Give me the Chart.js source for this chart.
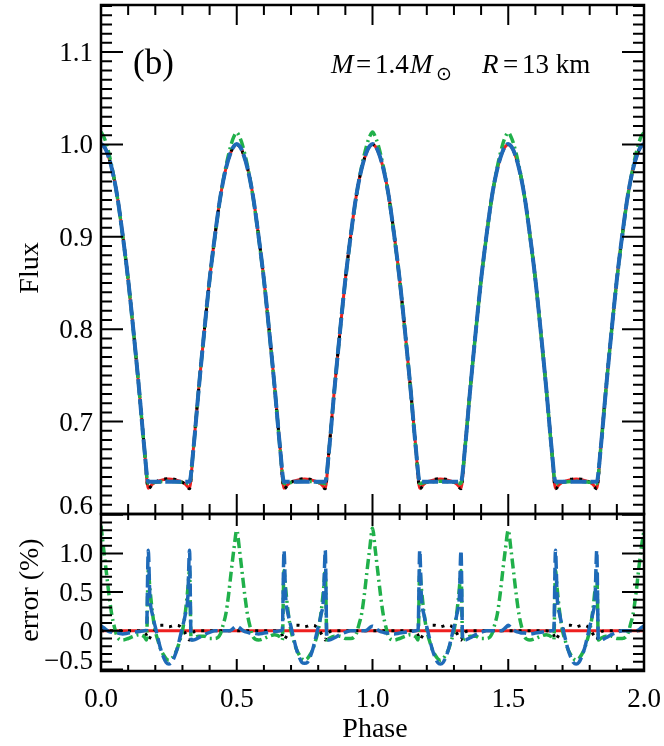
<!DOCTYPE html>
<html>
<head>
<meta charset="utf-8">
<script src="https://cdn.jsdelivr.net/npm/chart.js@4"></script>
<style>
  html, body { margin: 0; padding: 0; background: #fff; }
  #wrap { position: relative; width: 664px; height: 746px; }
  canvas { position: absolute; left: 0; }
  #fluxChart { top: 0; }
  #errChart { top: 500px; }
</style>
</head>
<body>
<div id="wrap">
  <canvas id="fluxChart" width="664" height="520"></canvas>
  <canvas id="errChart" width="664" height="246"></canvas>
</div>
<script>
// ---------- data ----------
// top panel: phase grid + flux of the four curves
const phaseTop = [
  0, 0.01, 0.02, 0.04, 0.06, 0.08, 0.10, 0.12, 0.14, 0.16, 0.174, 0.19, 0.21, 0.23, 0.25, 0.27, 0.29, 0.31, 0.326, 0.34, 0.36, 0.38, 0.40, 0.42, 0.44, 0.46, 0.48, 0.49,
  0.5, 0.51, 0.52, 0.54, 0.56, 0.58, 0.60, 0.62, 0.64, 0.66, 0.674, 0.69, 0.71, 0.73, 0.75, 0.77, 0.79, 0.81, 0.826, 0.84, 0.86, 0.88, 0.90, 0.92, 0.94, 0.96, 0.98, 0.99,
  1.0, 1.01, 1.02, 1.04, 1.06, 1.08, 1.10, 1.12, 1.14, 1.16, 1.174, 1.19, 1.21, 1.23, 1.25, 1.27, 1.29, 1.31, 1.326, 1.34, 1.36, 1.38, 1.40, 1.42, 1.44, 1.46, 1.48, 1.49,
  1.5, 1.51, 1.52, 1.54, 1.56, 1.58, 1.60, 1.62, 1.64, 1.66, 1.674, 1.69, 1.71, 1.73, 1.75, 1.77, 1.79, 1.81, 1.826, 1.84, 1.86, 1.88, 1.90, 1.92, 1.94, 1.96, 1.98, 1.99,
  2.0
];
const fluxExact = [
  1.000, 0.998, 0.993, 0.974, 0.944, 0.902, 0.854, 0.797, 0.736, 0.670, 0.628, 0.6325, 0.6355, 0.6372, 0.6378, 0.6372, 0.6355, 0.6325, 0.628, 0.670, 0.736, 0.797, 0.854, 0.902, 0.944, 0.974, 0.993, 0.998,
  1.000, 0.998, 0.993, 0.974, 0.944, 0.902, 0.854, 0.797, 0.736, 0.670, 0.628, 0.6325, 0.6355, 0.6372, 0.6378, 0.6372, 0.6355, 0.6325, 0.628, 0.670, 0.736, 0.797, 0.854, 0.902, 0.944, 0.974, 0.993, 0.998,
  1.000, 0.998, 0.993, 0.974, 0.944, 0.902, 0.854, 0.797, 0.736, 0.670, 0.628, 0.6325, 0.6355, 0.6372, 0.6378, 0.6372, 0.6355, 0.6325, 0.628, 0.670, 0.736, 0.797, 0.854, 0.902, 0.944, 0.974, 0.993, 0.998,
  1.000, 0.998, 0.993, 0.974, 0.944, 0.902, 0.854, 0.797, 0.736, 0.670, 0.628, 0.6325, 0.6355, 0.6372, 0.6378, 0.6372, 0.6355, 0.6325, 0.628, 0.670, 0.736, 0.797, 0.854, 0.902, 0.944, 0.974, 0.993, 0.998,
  1.000
];
const fluxBlack = [
  1.000, 0.998, 0.993, 0.974, 0.944, 0.902, 0.854, 0.797, 0.736, 0.670, 0.6272, 0.6322, 0.6359, 0.6377, 0.6381, 0.6377, 0.6359, 0.6322, 0.6272, 0.670, 0.736, 0.797, 0.854, 0.902, 0.944, 0.974, 0.993, 0.998,
  1.000, 0.998, 0.993, 0.974, 0.944, 0.902, 0.854, 0.797, 0.736, 0.670, 0.6272, 0.6322, 0.6359, 0.6377, 0.6381, 0.6377, 0.6359, 0.6322, 0.6272, 0.670, 0.736, 0.797, 0.854, 0.902, 0.944, 0.974, 0.993, 0.998,
  1.000, 0.998, 0.993, 0.974, 0.944, 0.902, 0.854, 0.797, 0.736, 0.670, 0.6272, 0.6322, 0.6359, 0.6377, 0.6381, 0.6377, 0.6359, 0.6322, 0.6272, 0.670, 0.736, 0.797, 0.854, 0.902, 0.944, 0.974, 0.993, 0.998,
  1.000, 0.998, 0.993, 0.974, 0.944, 0.902, 0.854, 0.797, 0.736, 0.670, 0.6272, 0.6322, 0.6359, 0.6377, 0.6381, 0.6377, 0.6359, 0.6322, 0.6272, 0.670, 0.736, 0.797, 0.854, 0.902, 0.944, 0.974, 0.993, 0.998,
  1.000
];
const fluxBlue = [
  1.0006, 0.9984, 0.9931, 0.9738, 0.9437, 0.9016, 0.8538, 0.7969, 0.7359, 0.6700, 0.635, 0.635, 0.635, 0.635, 0.635, 0.635, 0.635, 0.635, 0.635, 0.6692, 0.7353, 0.7966, 0.8538, 0.9020, 0.9440, 0.9740, 0.9931, 0.9984,
  1.0006, 0.9984, 0.9931, 0.9738, 0.9437, 0.9016, 0.8538, 0.7969, 0.7359, 0.6700, 0.635, 0.635, 0.635, 0.635, 0.635, 0.635, 0.635, 0.635, 0.635, 0.6692, 0.7353, 0.7966, 0.8538, 0.9020, 0.9440, 0.9740, 0.9931, 0.9984,
  1.0006, 0.9984, 0.9931, 0.9738, 0.9437, 0.9016, 0.8538, 0.7969, 0.7359, 0.6700, 0.635, 0.635, 0.635, 0.635, 0.635, 0.635, 0.635, 0.635, 0.635, 0.6692, 0.7353, 0.7966, 0.8538, 0.9020, 0.9440, 0.9740, 0.9931, 0.9984,
  1.0006, 0.9984, 0.9931, 0.9738, 0.9437, 0.9016, 0.8538, 0.7969, 0.7359, 0.6700, 0.635, 0.635, 0.635, 0.635, 0.635, 0.635, 0.635, 0.635, 0.635, 0.6692, 0.7353, 0.7966, 0.8538, 0.9020, 0.9440, 0.9740, 0.9931, 0.9984,
  1.0006
];
const fluxGreen = [
  1.0137, 1.0085, 1.0005, 0.9760, 0.9432, 0.9009, 0.8532, 0.7964, 0.7356, 0.6695, 0.633, 0.6339, 0.6347, 0.6352, 0.6354, 0.6352, 0.6347, 0.6339, 0.633, 0.6692, 0.7355, 0.7965, 0.8531, 0.9011, 0.9436, 0.9761, 1.0006, 1.0088,
  1.0130, 1.0085, 1.0005, 0.9760, 0.9432, 0.9009, 0.8532, 0.7964, 0.7356, 0.6695, 0.633, 0.6339, 0.6347, 0.6352, 0.6354, 0.6352, 0.6347, 0.6339, 0.633, 0.6692, 0.7355, 0.7965, 0.8531, 0.9011, 0.9436, 0.9761, 1.0006, 1.0088,
  1.0135, 1.0085, 1.0005, 0.9760, 0.9432, 0.9009, 0.8532, 0.7964, 0.7356, 0.6695, 0.633, 0.6339, 0.6347, 0.6352, 0.6354, 0.6352, 0.6347, 0.6339, 0.633, 0.6692, 0.7355, 0.7965, 0.8531, 0.9011, 0.9436, 0.9761, 1.0006, 1.0088,
  1.0130, 1.0085, 1.0005, 0.9760, 0.9432, 0.9009, 0.8532, 0.7964, 0.7356, 0.6695, 0.633, 0.6339, 0.6347, 0.6352, 0.6354, 0.6352, 0.6347, 0.6339, 0.633, 0.6692, 0.7355, 0.7965, 0.8531, 0.9011, 0.9436, 0.9761, 1.0006, 1.0088,
  1.0130
];

// bottom panel: phase grid + error (%) of the three approximations
const phaseErr = [
  0, 0.01, 0.02, 0.03, 0.04, 0.05, 0.06, 0.08, 0.10, 0.12, 0.14, 0.16, 0.168, 0.174, 0.18, 0.19, 0.20, 0.21, 0.22, 0.23, 0.24, 0.25, 0.26, 0.27, 0.28, 0.29, 0.30, 0.31, 0.32, 0.326, 0.332, 0.34, 0.36, 0.38, 0.40, 0.42, 0.44, 0.45, 0.46, 0.47, 0.48, 0.49,
  0.5, 0.51, 0.52, 0.53, 0.54, 0.55, 0.56, 0.58, 0.60, 0.62, 0.64, 0.66, 0.668, 0.674, 0.68, 0.69, 0.70, 0.71, 0.72, 0.73, 0.74, 0.75, 0.76, 0.77, 0.78, 0.79, 0.80, 0.81, 0.82, 0.826, 0.832, 0.84, 0.86, 0.88, 0.90, 0.92, 0.94, 0.95, 0.96, 0.97, 0.98, 0.99,
  1.0, 1.01, 1.02, 1.03, 1.04, 1.05, 1.06, 1.08, 1.10, 1.12, 1.14, 1.16, 1.168, 1.174, 1.18, 1.19, 1.20, 1.21, 1.22, 1.23, 1.24, 1.25, 1.26, 1.27, 1.28, 1.29, 1.30, 1.31, 1.32, 1.326, 1.332, 1.34, 1.36, 1.38, 1.40, 1.42, 1.44, 1.45, 1.46, 1.47, 1.48, 1.49,
  1.5, 1.51, 1.52, 1.53, 1.54, 1.55, 1.56, 1.58, 1.60, 1.62, 1.64, 1.66, 1.668, 1.674, 1.68, 1.69, 1.70, 1.71, 1.72, 1.73, 1.74, 1.75, 1.76, 1.77, 1.78, 1.79, 1.80, 1.81, 1.82, 1.826, 1.832, 1.84, 1.86, 1.88, 1.90, 1.92, 1.94, 1.95, 1.96, 1.97, 1.98, 1.99,
  2.0
];
const errBlue = [
  0.06, 0.04, 0.01, -0.01, -0.02, -0.03, -0.03, -0.04, -0.03, -0.02, -0.01, 0.00, 0.02, 1.04, 0.45, 0.20, 0.05, -0.10, -0.24, -0.34, -0.41, -0.43, -0.41, -0.34, -0.24, -0.10, 0.05, 0.20, 0.45, 1.04, -0.12, -0.12, -0.09, -0.05, -0.02, 0.00, 0.00, 0.00, 0.00, 0.00, 0.01, 0.04,
  0.06, 0.04, 0.01, -0.01, -0.02, -0.03, -0.03, -0.04, -0.03, -0.02, -0.01, 0.00, 0.02, 1.04, 0.45, 0.20, 0.05, -0.10, -0.24, -0.34, -0.41, -0.42, -0.41, -0.34, -0.24, -0.10, 0.05, 0.20, 0.45, 1.04, -0.12, -0.12, -0.09, -0.05, -0.02, 0.00, 0.00, 0.00, 0.00, 0.00, 0.01, 0.04,
  0.06, 0.04, 0.01, -0.01, -0.02, -0.03, -0.03, -0.04, -0.03, -0.02, -0.01, 0.00, 0.02, 1.04, 0.45, 0.20, 0.05, -0.10, -0.24, -0.34, -0.41, -0.43, -0.41, -0.34, -0.24, -0.10, 0.05, 0.20, 0.45, 1.04, -0.12, -0.12, -0.09, -0.05, -0.02, 0.00, 0.00, 0.00, 0.00, 0.00, 0.01, 0.04,
  0.07, 0.04, 0.01, -0.01, -0.02, -0.03, -0.03, -0.04, -0.03, -0.02, -0.01, 0.00, 0.02, 1.04, 0.45, 0.20, 0.05, -0.10, -0.24, -0.34, -0.41, -0.43, -0.41, -0.34, -0.24, -0.10, 0.05, 0.20, 0.45, 1.04, -0.12, -0.12, -0.09, -0.05, -0.02, 0.00, 0.00, 0.00, 0.00, 0.00, 0.01, 0.04,
  0.06
];
const errGreen = [
  1.36, 1.05, 0.75, 0.45, 0.20, 0.04, -0.08, -0.12, -0.10, -0.07, -0.05, -0.08, -0.12, 0.78, 0.55, 0.22, 0.00, -0.13, -0.24, -0.31, -0.36, -0.38, -0.36, -0.31, -0.24, -0.13, 0.00, 0.22, 0.55, 0.78, -0.12, -0.10, -0.07, -0.07, -0.10, -0.10, -0.04, 0.08, 0.22, 0.47, 0.78, 1.07,
  1.30, 1.05, 0.75, 0.45, 0.20, 0.04, -0.08, -0.12, -0.10, -0.07, -0.05, -0.08, -0.12, 0.78, 0.55, 0.22, 0.00, -0.13, -0.24, -0.31, -0.36, -0.38, -0.36, -0.31, -0.24, -0.13, 0.00, 0.22, 0.55, 0.78, -0.12, -0.10, -0.07, -0.07, -0.10, -0.10, -0.04, 0.08, 0.22, 0.47, 0.78, 1.07,
  1.33, 1.05, 0.75, 0.45, 0.20, 0.04, -0.08, -0.12, -0.10, -0.07, -0.05, -0.08, -0.12, 0.78, 0.55, 0.22, 0.00, -0.13, -0.24, -0.31, -0.36, -0.38, -0.36, -0.31, -0.24, -0.13, 0.00, 0.22, 0.55, 0.78, -0.12, -0.10, -0.07, -0.07, -0.10, -0.10, -0.04, 0.08, 0.22, 0.47, 0.78, 1.07,
  1.30, 1.05, 0.75, 0.45, 0.20, 0.04, -0.08, -0.12, -0.10, -0.07, -0.05, -0.08, -0.12, 0.78, 0.55, 0.22, 0.00, -0.13, -0.24, -0.31, -0.36, -0.38, -0.36, -0.31, -0.24, -0.13, 0.00, 0.22, 0.55, 0.78, -0.12, -0.10, -0.07, -0.07, -0.10, -0.10, -0.04, 0.08, 0.22, 0.47, 0.78, 1.07,
  1.30
];
const errBlack = [
  0, 0, 0, 0, 0, 0, 0, 0, 0, 0, 0, -0.02, -0.06, -0.12, -0.09, -0.03, 0.02, 0.06, 0.07, 0.07, 0.06, 0.05, 0.06, 0.07, 0.07, 0.06, 0.02, -0.03, -0.09, -0.12, -0.06, -0.02, 0, 0, 0, 0, 0, 0, 0, 0, 0, 0,
  0, 0, 0, 0, 0, 0, 0, 0, 0, 0, 0, -0.02, -0.06, -0.12, -0.09, -0.03, 0.02, 0.06, 0.07, 0.07, 0.06, 0.05, 0.06, 0.07, 0.07, 0.06, 0.02, -0.03, -0.09, -0.12, -0.06, -0.02, 0, 0, 0, 0, 0, 0, 0, 0, 0, 0,
  0, 0, 0, 0, 0, 0, 0, 0, 0, 0, 0, -0.02, -0.06, -0.12, -0.09, -0.03, 0.02, 0.06, 0.07, 0.07, 0.06, 0.05, 0.06, 0.07, 0.07, 0.06, 0.02, -0.03, -0.09, -0.12, -0.06, -0.02, 0, 0, 0, 0, 0, 0, 0, 0, 0, 0,
  0, 0, 0, 0, 0, 0, 0, 0, 0, 0, 0, -0.02, -0.06, -0.12, -0.09, -0.03, 0.02, 0.06, 0.07, 0.07, 0.06, 0.05, 0.06, 0.07, 0.07, 0.06, 0.02, -0.03, -0.09, -0.12, -0.06, -0.02, 0, 0, 0, 0, 0, 0, 0, 0, 0, 0,
  0
];
const phaseRef = [0, 2];
const errRed = [0, 0];

// ticks
const xTicks = [0, 0.5, 1.0, 1.5, 2.0];
const xTickLabels = ["0.0", "0.5", "1.0", "1.5", "2.0"];
const fluxTicks = [0.6, 0.7, 0.8, 0.9, 1.0, 1.1];
const fluxTickLabels = ["0.6", "0.7", "0.8", "0.9", "1.0", "1.1"];
const errTicks = [-0.5, 0, 0.5, 1.0];
const errTickLabels = ["\u22120.5", "0", "0.5", "1.0"];

// ---------- styles ----------
const RED = "#ee2020";
const BLUE = "#1f6ab8";
const GREEN = "#20b04a";
const SERIF = "'Liberation Serif', 'DejaVu Serif', serif";

function pts(xs, ys) {
  return xs.map((x, i) => ({ x: x, y: ys[i] }));
}

function lineSet(data, color, width, dash) {
  return {
    data: data,
    borderColor: color,
    borderWidth: width,
    borderDash: dash,
    pointRadius: 0,
    fill: false,
    cubicInterpolationMode: "monotone",
  };
}

// axes frame, inward ticks on all four sides, tick labels
const framePlugin = {
  id: "frame",
  afterDraw(chart, args, o) {
    const { ctx, chartArea: a } = chart;
    const x = chart.scales.x;
    const y = chart.scales.y;
    ctx.save();
    ctx.strokeStyle = "#000";
    ctx.lineWidth = 2;
    ctx.beginPath();
    for (let i = 0; i <= 20; i++) {
      const px = x.getPixelForValue(i / 10);
      const len = i % 5 === 0 ? o.xMajor : o.xMinor;
      ctx.moveTo(px, a.top);
      ctx.lineTo(px, a.top + len);
      ctx.moveTo(px, a.bottom);
      ctx.lineTo(px, a.bottom - len);
    }
    const n = Math.round((o.yTo - o.yFrom) / o.yMinor);
    for (let i = 0; i <= n; i++) {
      const py = y.getPixelForValue(o.yFrom + i * o.yMinor);
      const len = i % o.perMajor === 0 ? 22 : 11;
      ctx.moveTo(a.left, py);
      ctx.lineTo(a.left + len, py);
      ctx.moveTo(a.right, py);
      ctx.lineTo(a.right - len, py);
    }
    ctx.stroke();
    ctx.lineWidth = 2.5;
    ctx.strokeRect(a.left, a.top, a.right - a.left, a.bottom - a.top);

    // y tick labels (lowest one sits a bit higher, as in the original)
    ctx.fillStyle = "#000";
    ctx.font = "27px " + SERIF;
    ctx.textAlign = "right";
    ctx.textBaseline = "alphabetic";
    o.yTicks.forEach((v, i) => {
      const shift = i === 0 ? -9 : 0;
      ctx.fillText(o.yLabels[i], a.left - 8, y.getPixelForValue(v) + 9 + shift);
    });
    if (o.xLabels) {
      ctx.textAlign = "center";
      xTicks.forEach((v, i) => {
        ctx.fillText(xTickLabels[i], x.getPixelForValue(v), a.bottom + 36);
      });
    }
    ctx.restore();
  },
};

const textPlugin = {
  id: "texts",
  afterDraw(chart, args, o) {
    const ctx = chart.ctx;
    ctx.save();
    ctx.fillStyle = "#000";
    ctx.textBaseline = "alphabetic";
    (o.items || []).forEach((t) => {
      ctx.save();
      ctx.font = t.font;
      ctx.textAlign = t.align || "left";
      ctx.translate(t.x, t.y);
      if (t.rot) ctx.rotate(t.rot);
      ctx.fillText(t.text, 0, 0);
      ctx.restore();
    });
    ctx.restore();
  },
};

function baseOptions(pad, yMin, yMax) {
  return {
    responsive: false,
    animation: false,
    devicePixelRatio: 1,
    layout: { padding: pad },
    scales: {
      x: { type: "linear", min: 0, max: 2, display: false },
      y: { type: "linear", min: yMin, max: yMax, display: false },
    },
    plugins: { legend: { display: false }, tooltip: { enabled: false } },
  };
}

// ---------- top panel ----------
const topOpts = baseOptions({ left: 101, right: 20, top: 5, bottom: 6 }, 0.6, 1.151);
topOpts.plugins.frame = {
  xMajor: 20, xMinor: 10,
  yFrom: 0.6, yTo: 1.15, yMinor: 0.01, perMajor: 10,
  yTicks: fluxTicks, yLabels: fluxTickLabels, xLabels: false,
};
topOpts.plugins.texts = {
  items: [
    { text: "(b)", x: 133, y: 74, font: "35px " + SERIF },
    { text: "M", x: 331, y: 73, font: "italic 27px " + SERIF },
    { text: "=", x: 356, y: 73, font: "27px " + SERIF },
    { text: "1.4", x: 375, y: 73, font: "27px " + SERIF },
    { text: "M", x: 410, y: 73, font: "italic 27px " + SERIF },
    { text: "\u2299", x: 436, y: 80, font: "19px 'DejaVu Sans', sans-serif" },
    { text: "R", x: 482, y: 73, font: "italic 27px " + SERIF },
    { text: "=", x: 503, y: 73, font: "27px " + SERIF },
    { text: "13 km", x: 522, y: 73, font: "27px " + SERIF },
    { text: "Flux", x: 38, y: 268, rot: -Math.PI / 2, align: "center", font: "28px " + SERIF },
  ],
};

new Chart(document.getElementById("fluxChart"), {
  type: "line",
  data: {
    datasets: [
      lineSet(pts(phaseTop, fluxBlue), BLUE, 4, [16, 4]),
      lineSet(pts(phaseTop, fluxGreen), GREEN, 3.5, [10, 4, 2, 4]),
      lineSet(pts(phaseTop, fluxBlack), "#000", 3, [3, 6]),
      lineSet(pts(phaseTop, fluxExact), RED, 3, []),
    ],
  },
  options: topOpts,
  plugins: [framePlugin, textPlugin],
});

// ---------- bottom panel ----------
const botOpts = baseOptions({ left: 101, right: 20, top: 14, bottom: 75 }, -0.52, 1.51);
botOpts.plugins.frame = {
  xMajor: 12, xMinor: 6,
  yFrom: -0.5, yTo: 1.5, yMinor: 0.1, perMajor: 5,
  yTicks: errTicks, yLabels: errTickLabels, xLabels: true,
};
botOpts.plugins.texts = {
  items: [
    { text: "error (%)", x: 38, y: 90, rot: -Math.PI / 2, align: "center", font: "28px " + SERIF },
    { text: "Phase", x: 375, y: 237, align: "center", font: "28px " + SERIF },
  ],
};

new Chart(document.getElementById("errChart"), {
  type: "line",
  data: {
    datasets: [
      lineSet(pts(phaseErr, errBlue), BLUE, 3.5, [13, 5]),
      lineSet(pts(phaseErr, errGreen), GREEN, 3.5, [10, 4, 2, 4]),
      lineSet(pts(phaseErr, errBlack), "#000", 3, [3, 6]),
      lineSet(pts(phaseRef, errRed), RED, 3, []),
    ],
  },
  options: botOpts,
  plugins: [framePlugin, textPlugin],
});
</script>
</body>
</html>
